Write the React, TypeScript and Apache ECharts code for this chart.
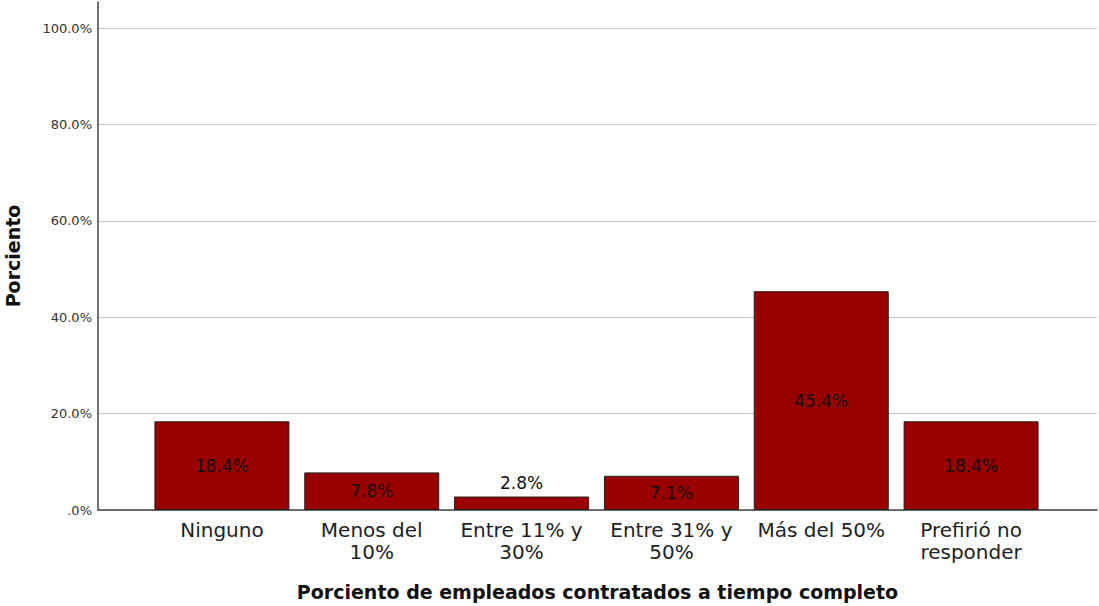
import React, { useEffect, useRef } from "react";
import * as echarts from "echarts";

const categories = [
  "Ninguno",
  "Menos del\n10%",
  "Entre 11% y\n30%",
  "Entre 31% y\n50%",
  "Más del 50%",
  "Prefirió no\nresponder",
];
const values = [18.4, 7.8, 2.8, 7.1, 45.4, 18.4];
const yMax = 105.4;
const yStep = 20;
const xTitle = "Porciento de empleados contratados a tiempo completo";
const yTitle = "Porciento";

const FONT = "DejaVu Sans";

export default function App() {
  const ref = useRef<HTMLDivElement>(null);
  useEffect(() => {
    if (!ref.current) return;
    const chart = echarts.init(ref.current, undefined, { renderer: "svg" });
    const fmt = (v: number) =>
      v > 100.01 ? "" : v === 0 ? ".0%" : v.toFixed(1) + "%";
    chart.setOption({
      animation: false,
      backgroundColor: "#ffffff",
      grid: [
        { left: 147, right: 53, top: 2, bottom: 96 },
        { left: 98, right: 2, top: 2, bottom: 96 },
      ],
      xAxis: [
        {
          type: "category",
          gridIndex: 0,
          data: categories,
          axisLine: { show: false },
          axisTick: { show: false },
          axisLabel: {
            fontFamily: FONT,
            fontSize: 20,
            lineHeight: 22,
            color: "#222",
            margin: 9,
            interval: 0,
          },
        },
        {
          type: "category",
          gridIndex: 1,
          data: [""],
          axisLine: { show: true, lineStyle: { color: "#444", width: 1.5 } },
          axisTick: { show: false },
          axisLabel: { show: false },
          name: xTitle,
          nameLocation: "middle",
          nameGap: 72,
          nameTextStyle: {
            fontFamily: FONT,
            fontSize: 19,
            fontWeight: "bold",
            color: "#111",
          },
        },
      ],
      yAxis: [
        {
          type: "value",
          gridIndex: 0,
          min: 0,
          max: yMax,
          show: false,
          splitLine: { show: false },
        },
        {
          type: "value",
          gridIndex: 1,
          min: 0,
          max: yMax,
          interval: yStep,
          axisLine: { show: true, lineStyle: { color: "#444", width: 1.5 } },
          axisTick: { show: false },
          axisLabel: {
            fontFamily: FONT,
            fontSize: 13,
            color: "#333",
            margin: 6,
            showMaxLabel: false,
            formatter: fmt,
          },
          splitLine: {
            show: true,
            showMaxLine: false,
            lineStyle: { color: "#c8c8c8", width: 1 },
          },
        },
      ],
      graphic: [
        {
          type: "text",
          x: 13,
          y: 256,
          rotation: Math.PI / 2,
          style: {
            text: yTitle,
            align: "center",
            verticalAlign: "middle",
            fontFamily: FONT,
            fontSize: 19,
            fontWeight: "bold",
            fill: "#111",
          },
        },
      ],
      series: [
        {
          type: "bar",
          xAxisIndex: 0,
          yAxisIndex: 0,
          barWidth: 135,
          data: values.map((v) => ({
            value: v,
            label:
              v < 5
                ? { position: "top", distance: 5 }
                : { position: "inside" },
          })),
          itemStyle: { color: "#990000", borderColor: "#222", borderWidth: 1 },
          label: {
            show: true,
            fontFamily: FONT,
            fontSize: 17,
            color: "#111",
            formatter: (p: any) => p.value.toFixed(1) + "%",
          },
        },
      ],
    });
    return () => chart.dispose();
  }, []);
  return (
    <div
      ref={ref}
      style={{ position: "fixed", left: 0, top: 0, width: 1099, height: 606 }}
    />
  );
}
